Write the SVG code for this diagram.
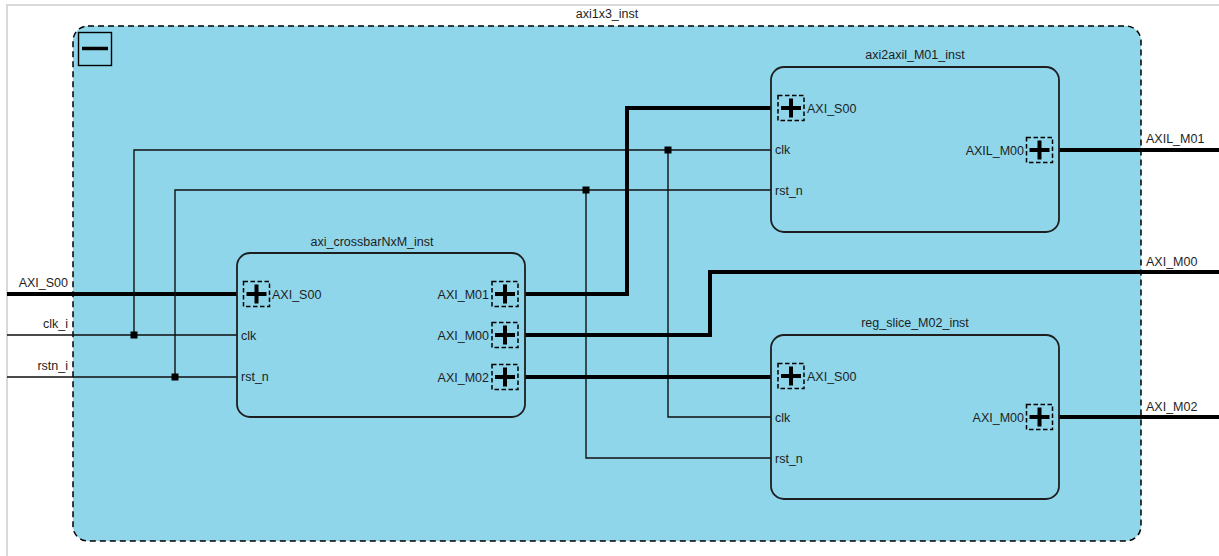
<svg xmlns="http://www.w3.org/2000/svg" xmlns:xlink="http://www.w3.org/1999/xlink" width="1219" height="556" viewBox="0 0 1219 556">
<style>
text{font-family:"Liberation Sans",Arial,sans-serif;font-size:12.5px;fill:#1e1e1e}
.blk{fill:#8fd6eb;stroke:#1e1e1e;stroke-width:1.8}
.thin{fill:none;stroke:#111;stroke-width:1.4}
.bus{fill:none;stroke:#000;stroke-width:4}
.jn{fill:#000}
.r{text-anchor:end}
.m{text-anchor:middle}
</style>
<defs>
<g id="busport">
<rect x="-13" y="-12.5" width="26" height="25" fill="none" stroke="#000" stroke-width="1.5" stroke-dasharray="4.5 2.5"/>
<path d="M-10 0H10M0-9.5V9.5" stroke="#000" stroke-width="4" fill="none"/>
</g>
</defs>
<rect width="1219" height="556" fill="#fff"/>
<path d="M7 556V5H1219" fill="none" stroke="#d9d9d9" stroke-width="2"/>
<g id="axi1x3_inst">
<rect x="73" y="26" width="1068" height="515" rx="15" fill="#8fd6eb" stroke="#000" stroke-width="1.5" stroke-dasharray="6 4"/>
<text class="m" x="607" y="18">axi1x3_inst</text>
<rect x="78.5" y="32.5" width="33" height="33" fill="none" stroke="#000" stroke-width="1.4"/>
<path d="M82 48.5H108" stroke="#000" stroke-width="3.5"/>
</g>
<g id="connectors">
<path class="bus" d="M7 294H243"/>
<path class="thin" d="M7 335H237M7 377H237"/>
<path class="thin" d="M134 335V150H771M668 150V417H771"/>
<path class="thin" d="M175 377V190H771M586 190V458H771"/>
<path class="bus" d="M518 294H627V108H778"/>
<path class="bus" d="M518 335H710V272H1219"/>
<path class="bus" d="M518 377H778"/>
<path class="bus" d="M1052 150H1219"/>
<path class="bus" d="M1052 417H1219"/>
<rect class="jn" x="130.5" y="331.5" width="7" height="7"/>
<rect class="jn" x="171.5" y="373.5" width="7" height="7"/>
<rect class="jn" x="664.5" y="146.5" width="7" height="7"/>
<rect class="jn" x="582.5" y="186.5" width="7" height="7"/>
<text class="r" x="68" y="287">AXI_S00</text>
<text class="r" x="68" y="328">clk_i</text>
<text class="r" x="68" y="370">rstn_i</text>
<text x="1146" y="143">AXIL_M01</text>
<text x="1146" y="266">AXI_M00</text>
<text x="1146" y="411">AXI_M02</text>
</g>
<g id="axi_crossbarNxM_inst">
<rect class="blk" x="237" y="253" width="288" height="164" rx="13"/>
<text class="m" x="372" y="246">axi_crossbarNxM_inst</text>
<use xlink:href="#busport" x="256.5" y="294"/>
<text x="272" y="298.5">AXI_S00</text>
<text x="241" y="339.5">clk</text>
<text x="241" y="381">rst_n</text>
<use xlink:href="#busport" x="505" y="294"/>
<text class="r" x="489" y="298.5">AXI_M01</text>
<use xlink:href="#busport" x="505" y="335"/>
<text class="r" x="489" y="339.5">AXI_M00</text>
<use xlink:href="#busport" x="505" y="377"/>
<text class="r" x="489" y="381.5">AXI_M02</text>
</g>
<g id="axi2axil_M01_inst">
<rect class="blk" x="771" y="67" width="288" height="165" rx="13"/>
<text class="m" x="915" y="59">axi2axil_M01_inst</text>
<use xlink:href="#busport" x="791" y="108"/>
<text x="807" y="112.5">AXI_S00</text>
<text x="775" y="153.5">clk</text>
<text x="775" y="194.5">rst_n</text>
<use xlink:href="#busport" x="1039.5" y="150"/>
<text class="r" x="1024" y="154.5">AXIL_M00</text>
</g>
<g id="reg_slice_M02_inst">
<rect class="blk" x="771" y="335" width="288" height="164" rx="13"/>
<text class="m" x="915" y="327">reg_slice_M02_inst</text>
<use xlink:href="#busport" x="791" y="376"/>
<text x="807" y="380.5">AXI_S00</text>
<text x="775" y="421.5">clk</text>
<text x="775" y="462.5">rst_n</text>
<use xlink:href="#busport" x="1039.5" y="417"/>
<text class="r" x="1024" y="421.5">AXI_M00</text>
</g>
</svg>
